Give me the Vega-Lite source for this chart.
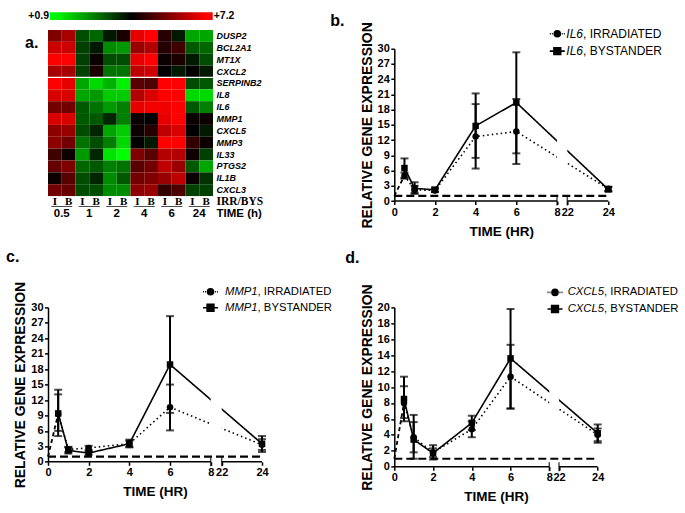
{
  "$schema": "https://vega.github.io/schema/vega-lite/v6.json",
  "padding": {"left": 6, "top": 10.9, "right": 5, "bottom": 5},
  "columns": 2,
  "bounds": "flush",
  "align": "each",
  "center": {"row": true, "column": false},
  "spacing": {"row": 87.5, "column": 132.3},
  "config": {
    "font": "Liberation Sans",
    "view": {"stroke": null},
    "title": {"color": "black"},
    "axis": {"labelOverlap": false}
  },
  "datasets": {
    "hm": [
      {"g":"DUSP2","t":"0.5","I":5.63,"B":6.10},{"g":"DUSP2","t":"1","I":3.11,"B":2.79},{"g":"DUSP2","t":"2","I":3.74,"B":4.37},{"g":"DUSP2","t":"4","I":6.89,"B":7.2},{"g":"DUSP2","t":"6","I":4.52,"B":3.74},{"g":"DUSP2","t":"24","I":2.0,"B":2.0},
      {"g":"BCL2A1","t":"0.5","I":6.57,"B":6.57},{"g":"BCL2A1","t":"1","I":3.26,"B":3.74},{"g":"BCL2A1","t":"2","I":2.32,"B":2.16},{"g":"BCL2A1","t":"4","I":5.94,"B":6.26},{"g":"BCL2A1","t":"6","I":4.52,"B":4.84},{"g":"BCL2A1","t":"24","I":2.95,"B":2.79},
      {"g":"MT1X","t":"0.5","I":7.2,"B":7.2},{"g":"MT1X","t":"1","I":3.26,"B":4.21},{"g":"MT1X","t":"2","I":3.11,"B":3.11},{"g":"MT1X","t":"4","I":6.89,"B":7.2},{"g":"MT1X","t":"6","I":4.21,"B":4.37},{"g":"MT1X","t":"24","I":3.74,"B":3.11},
      {"g":"CXCL2","t":"0.5","I":6.10,"B":6.10},{"g":"CXCL2","t":"1","I":3.26,"B":4.37},{"g":"CXCL2","t":"2","I":2.63,"B":2.63},{"g":"CXCL2","t":"4","I":6.41,"B":6.57},{"g":"CXCL2","t":"6","I":4.05,"B":3.74},{"g":"CXCL2","t":"24","I":4.05,"B":3.74},
      {"g":"SERPINB2","t":"0.5","I":7.2,"B":6.89},{"g":"SERPINB2","t":"1","I":2.0,"B":1.37},{"g":"SERPINB2","t":"2","I":1.85,"B":1.06},{"g":"SERPINB2","t":"4","I":5.15,"B":4.99},{"g":"SERPINB2","t":"6","I":7.2,"B":7.2},{"g":"SERPINB2","t":"24","I":3.11,"B":2.95},
      {"g":"IL8","t":"0.5","I":6.73,"B":6.73},{"g":"IL8","t":"1","I":2.0,"B":2.16},{"g":"IL8","t":"2","I":1.53,"B":1.53},{"g":"IL8","t":"4","I":6.26,"B":6.73},{"g":"IL8","t":"6","I":7.2,"B":7.2},{"g":"IL8","t":"24","I":1.37,"B":1.37},
      {"g":"IL6","t":"0.5","I":5.47,"B":5.47},{"g":"IL6","t":"1","I":2.95,"B":2.63},{"g":"IL6","t":"2","I":2.16,"B":2.48},{"g":"IL6","t":"4","I":6.89,"B":7.04},{"g":"IL6","t":"6","I":7.04,"B":7.2},{"g":"IL6","t":"24","I":2.95,"B":2.48},
      {"g":"MMP1","t":"0.5","I":6.73,"B":6.73},{"g":"MMP1","t":"1","I":2.95,"B":2.95},{"g":"MMP1","t":"2","I":3.58,"B":2.48},{"g":"MMP1","t":"4","I":4.21,"B":4.05},{"g":"MMP1","t":"6","I":6.89,"B":7.2},{"g":"MMP1","t":"24","I":4.21,"B":4.21},
      {"g":"CXCL5","t":"0.5","I":5.78,"B":5.94},{"g":"CXCL5","t":"1","I":3.11,"B":3.58},{"g":"CXCL5","t":"2","I":2.0,"B":1.53},{"g":"CXCL5","t":"4","I":4.21,"B":4.52},{"g":"CXCL5","t":"6","I":6.41,"B":6.73},{"g":"CXCL5","t":"24","I":4.05,"B":3.74},
      {"g":"MMP3","t":"0.5","I":5.78,"B":5.47},{"g":"MMP3","t":"1","I":2.63,"B":3.11},{"g":"MMP3","t":"2","I":2.48,"B":1.37},{"g":"MMP3","t":"4","I":4.05,"B":3.74},{"g":"MMP3","t":"6","I":7.2,"B":7.2},{"g":"MMP3","t":"24","I":4.68,"B":4.21},
      {"g":"IL33","t":"0.5","I":4.84,"B":4.21},{"g":"IL33","t":"1","I":2.16,"B":3.58},{"g":"IL33","t":"2","I":1.22,"B":0.9},{"g":"IL33","t":"4","I":5.63,"B":5.15},{"g":"IL33","t":"6","I":6.26,"B":6.26},{"g":"IL33","t":"24","I":4.21,"B":3.26},
      {"g":"PTGS2","t":"0.5","I":5.31,"B":5.63},{"g":"PTGS2","t":"1","I":2.79,"B":2.95},{"g":"PTGS2","t":"2","I":2.48,"B":2.63},{"g":"PTGS2","t":"4","I":5.15,"B":5.47},{"g":"PTGS2","t":"6","I":6.41,"B":5.94},{"g":"PTGS2","t":"24","I":2.95,"B":2.0},
      {"g":"IL1B","t":"0.5","I":4.21,"B":5.15},{"g":"IL1B","t":"1","I":3.11,"B":3.58},{"g":"IL1B","t":"2","I":2.32,"B":2.95},{"g":"IL1B","t":"4","I":5.47,"B":5.63},{"g":"IL1B","t":"6","I":5.94,"B":6.41},{"g":"IL1B","t":"24","I":4.21,"B":3.42},
      {"g":"CXCL3","t":"0.5","I":5.47,"B":5.31},{"g":"CXCL3","t":"1","I":3.11,"B":3.11},{"g":"CXCL3","t":"2","I":2.32,"B":2.32},{"g":"CXCL3","t":"4","I":5.78,"B":5.94},{"g":"CXCL3","t":"6","I":4.68,"B":4.99},{"g":"CXCL3","t":"24","I":3.26,"B":3.26}
    ],
    "il6": [
      {"t":0,"c":"IRRADIATED","m":1},
      {"t":0.5,"c":"IRRADIATED","m":5.0,"lo":4.4,"hi":5.6},
      {"t":1,"c":"IRRADIATED","m":2.2,"lo":1.6,"hi":3.0},
      {"t":2,"c":"IRRADIATED","m":2.1,"lo":1.8,"hi":2.4},
      {"t":4,"c":"IRRADIATED","m":12.7,"lo":6.4,"hi":19.1},
      {"t":6,"c":"IRRADIATED","m":13.7,"lo":7.3,"hi":20.1},
      {"t":24,"c":"IRRADIATED","m":2.4,"lo":2.0,"hi":2.8},
      {"t":0.5,"c":"BYSTANDER","m":6.5,"lo":4.6,"hi":8.4},
      {"t":1,"c":"BYSTANDER","m":2.5,"lo":1.4,"hi":3.7},
      {"t":2,"c":"BYSTANDER","m":2.2,"lo":1.8,"hi":2.7},
      {"t":4,"c":"BYSTANDER","m":14.8,"lo":8.5,"hi":21.2},
      {"t":6,"c":"BYSTANDER","m":19.4,"lo":9.4,"hi":29.3},
      {"t":24,"c":"BYSTANDER","m":2.3,"lo":1.9,"hi":2.8}
    ],
    "mmp1": [
      {"t":0,"c":"IRRADIATED","m":1},
      {"t":0.5,"c":"IRRADIATED","m":9.3,"lo":6.0,"hi":13.1},
      {"t":1,"c":"IRRADIATED","m":2.4,"lo":1.9,"hi":2.9},
      {"t":2,"c":"IRRADIATED","m":2.7,"lo":2.3,"hi":3.1},
      {"t":4,"c":"IRRADIATED","m":3.5,"lo":2.9,"hi":4.1},
      {"t":6,"c":"IRRADIATED","m":10.6,"lo":6.1,"hi":15.0},
      {"t":24,"c":"IRRADIATED","m":3.3,"lo":2.3,"hi":4.4},
      {"t":0.5,"c":"BYSTANDER","m":9.4,"lo":5.0,"hi":14.0},
      {"t":1,"c":"BYSTANDER","m":2.2,"lo":1.6,"hi":2.8},
      {"t":2,"c":"BYSTANDER","m":1.7,"lo":1.4,"hi":2.0},
      {"t":4,"c":"BYSTANDER","m":3.5,"lo":2.8,"hi":4.3},
      {"t":6,"c":"BYSTANDER","m":18.9,"lo":9.5,"hi":28.3},
      {"t":24,"c":"BYSTANDER","m":3.5,"lo":1.9,"hi":5.0}
    ],
    "cxcl5": [
      {"t":0,"c":"IRRADIATED","m":1},
      {"t":0.5,"c":"IRRADIATED","m":8.0,"lo":6.1,"hi":10.1},
      {"t":1,"c":"IRRADIATED","m":3.7,"lo":1.8,"hi":5.6},
      {"t":2,"c":"IRRADIATED","m":1.8,"lo":1.2,"hi":2.3},
      {"t":4,"c":"IRRADIATED","m":4.7,"lo":3.7,"hi":5.7},
      {"t":6,"c":"IRRADIATED","m":11.3,"lo":7.3,"hi":15.3},
      {"t":24,"c":"IRRADIATED","m":4.0,"lo":3.2,"hi":4.8},
      {"t":0.5,"c":"BYSTANDER","m":8.5,"lo":5.7,"hi":11.3},
      {"t":1,"c":"BYSTANDER","m":3.4,"lo":1.0,"hi":6.5},
      {"t":2,"c":"BYSTANDER","m":1.7,"lo":0.9,"hi":2.7},
      {"t":4,"c":"BYSTANDER","m":5.5,"lo":4.6,"hi":6.4},
      {"t":6,"c":"BYSTANDER","m":13.6,"lo":7.3,"hi":19.8},
      {"t":24,"c":"BYSTANDER","m":4.2,"lo":3.0,"hi":5.3}
    ],
    "brk": [{"lo":8,"hi":22}],
    "seg": [{"s":0,"e":8},{"s":22,"e":24}],
    "ref": [{"y":1,"a":0,"b":24}]
  },
  "concat": [
    {
      "width": 165,
      "height": 189.8,
      "title": {"text": "a.", "anchor": "start", "frame": "group", "offset": 0, "dx": -23, "dy": 52.5, "fontSize": 16, "fontWeight": "bold", "baseline": "alphabetic"},
      "layer": [
        {
          "layer": [
            {
              "data": {"name": "hm"},
              "transform": [{"fold": ["I", "B"], "as": ["s", "v"]}],
              "mark": {"type": "rect"},
              "encoding": {
                "x": {"field": "t", "type": "nominal", "scale": {"domain": ["0.5", "1", "2", "4", "6", "24"], "paddingInner": 0, "paddingOuter": 0}, "axis": null},
                "xOffset": {"field": "s", "type": "nominal", "scale": {"domain": ["I", "B"], "paddingInner": 0, "paddingOuter": 0}},
                "y": {"field": "g", "type": "nominal", "scale": {"domain": ["DUSP2", "BCL2A1", "MT1X", "CXCL2", "SERPINB2", "IL8", "IL6", "MMP1", "CXCL5", "MMP3", "IL33", "PTGS2", "IL1B", "CXCL3", "IRR/BYS", "TIME (h)"], "paddingInner": 0, "paddingOuter": 0}, "axis": {"orient": "right", "title": null, "ticks": false, "domain": false, "labelPadding": 3, "labelColor": "black", "labelFontWeight": "bold",
                  "labelFont": {"condition": {"test": "datum.value === 'IRR/BYS'", "value": "Liberation Serif"}, "value": "Liberation Sans"},
                  "labelFontStyle": {"condition": {"test": "datum.value === 'IRR/BYS' || datum.value === 'TIME (h)'", "value": "normal"}, "value": "italic"},
                  "labelFontSize": {"condition": {"test": "datum.value === 'IRR/BYS' || datum.value === 'TIME (h)'", "value": 11.5}, "value": 9}}},
                "color": {"field": "v", "type": "quantitative", "scale": {"domain": [0.9, 4.05, 7.2], "range": ["#00ff00", "#000000", "#ff0000"], "interpolate": "rgb"}, "legend": null}
              }
            },
            {
              "data": {"values": [{"sep": "SERPINB2"}]},
              "mark": {"type": "rule", "color": "white", "strokeWidth": 1.2},
              "encoding": {"y": {"field": "sep", "type": "nominal", "bandPosition": 0}}
            },
            {
              "data": {"name": "hm"},
              "transform": [{"filter": "datum.g === 'DUSP2'"}, {"fold": ["I", "B"], "as": ["s", "v"]}],
              "mark": {"type": "text", "font": "Liberation Serif", "fontSize": 11, "fontWeight": "bold", "color": "black"},
              "encoding": {
                "x": {"field": "t", "type": "nominal"},
                "xOffset": {"field": "s", "type": "nominal"},
                "y": {"datum": "IRR/BYS", "type": "nominal"},
                "text": {"field": "s"}
              }
            },
            {
              "data": {"name": "hm"},
              "transform": [{"filter": "datum.g === 'DUSP2'"}],
              "mark": {"type": "tick", "orient": "horizontal", "size": 21, "thickness": 1, "yOffset": 4.5, "color": "black"},
              "encoding": {"x": {"field": "t", "type": "nominal"}, "y": {"datum": "IRR/BYS", "type": "nominal"}}
            },
            {
              "data": {"name": "hm"},
              "transform": [{"filter": "datum.g === 'DUSP2'"}],
              "mark": {"type": "text", "fontSize": 11.5, "fontWeight": "bold", "color": "black"},
              "encoding": {"x": {"field": "t", "type": "nominal"}, "y": {"datum": "TIME (h)", "type": "nominal"}, "text": {"field": "t"}}
            }
          ]
        },
        {
          "data": {"values": [{"lo": 0.9, "hi": 7.2, "r": "bar"}]},
          "encoding": {
            "x": {"field": "lo", "type": "quantitative", "scale": {"domain": [0.9, 7.2], "range": [2, 164.7], "nice": false, "zero": false}, "axis": null},
            "y": {"field": "r", "type": "nominal", "scale": {"range": [-17.7, -10], "paddingInner": 0, "paddingOuter": 0}, "axis": null}
          },
          "layer": [
            {"mark": {"type": "rect", "color": {"gradient": "linear", "x1": 0, "x2": 1, "y1": 0, "y2": 0, "stops": [{"offset": 0, "color": "#00ff00"}, {"offset": 0.06, "color": "#00f000"}, {"offset": 0.5, "color": "#000000"}, {"offset": 0.96, "color": "#ff0000"}, {"offset": 1, "color": "#ff0000"}]}}, "encoding": {"x2": {"field": "hi"}}},
            {"mark": {"type": "text", "align": "right", "dx": -1, "fontSize": 10.5, "fontWeight": "bold", "color": "black"}, "encoding": {"text": {"field": "lo", "format": "+.1f"}}},
            {"mark": {"type": "text", "align": "left", "dx": 1, "fontSize": 10.5, "fontWeight": "bold", "color": "black"}, "encoding": {"x": {"field": "hi", "type": "quantitative"}, "text": {"field": "hi", "format": "+.1f"}}}
          ]
        }
      ],
      "resolve": {"scale": {"x": "independent", "y": "independent"}}
    },
    {
      "width": 214,
      "height": 152.3,
      "title": {"text": "b.", "anchor": "start", "frame": "group", "offset": 0, "dx": -64, "dy": 20.2, "fontSize": 16, "fontWeight": "bold", "baseline": "alphabetic"},
      "layer": [
        {
          "data": {"name": "il6"},
          "layer": [
            {
              "transform": [{"filter": "datum.c === 'IRRADIATED' && datum.t <= 0.5"}],
              "mark": {"type": "line", "strokeDash": [4, 3], "strokeWidth": 1.8, "color": "black"},
              "encoding": {
                "x": {"field": "t", "type": "quantitative", "scale": {"domain": [0, 8, 22, 24], "range": [0, 162.7, 173, 214]}, "axis": {"values": [0, 2, 4, 6, 8, 22, 24], "tickCount": 50, "format": "d", "title": "TIME (HR)", "domain": false, "grid": false, "tickSize": 3.5, "tickWidth": 1.5, "tickColor": "black", "labelFontSize": 11, "labelFontWeight": "bold", "labelColor": "black", "labelPadding": 1.5, "labelOverlap": false, "labelFlush": false, "titleFontSize": 13.5, "titleFontWeight": "bold", "titleColor": "black", "titlePadding": 7}},
                "y": {"field": "m", "type": "quantitative", "scale": {"domain": [0, 30]}, "axis": {"values": [0, 3, 6, 9, 12, 15, 18, 21, 24, 27, 30], "tickCount": 50, "format": "d", "title": "RELATIVE GENE EXPRESSION", "grid": false, "domainColor": "black", "domainWidth": 1.5, "tickSize": 3.5, "tickWidth": 1.5, "tickColor": "black", "labelFontSize": 11, "labelFontWeight": "bold", "labelColor": "black", "labelPadding": 1.5, "labelOverlap": false, "titleFontSize": 14, "titleFontWeight": "bold", "titleColor": "black", "titlePadding": 3}}
              }
            },
            {
              "transform": [{"filter": "datum.t >= 0.5"}],
              "mark": {"type": "line", "strokeWidth": 1.6, "color": "black"},
              "encoding": {"x": {"field": "t", "type": "quantitative"}, "y": {"field": "m", "type": "quantitative"}, "detail": {"field": "c"}, "strokeDash": {"field": "c", "type": "nominal", "scale": {"domain": ["IRRADIATED", "BYSTANDER"], "range": [[1.5, 3], [1, 0]]}, "legend": null}}
            },
            {"data": {"name": "brk"}, "mark": {"type": "rect", "color": "white"}, "encoding": {"x": {"field": "lo", "type": "quantitative"}, "x2": {"field": "hi"}}},
            {"data": {"name": "ref"}, "mark": {"type": "rule", "strokeDash": [8, 4], "strokeWidth": 2.2, "color": "black"}, "encoding": {"x": {"field": "a", "type": "quantitative"}, "x2": {"field": "b"}, "y": {"field": "y", "type": "quantitative"}}},
            {"transform": [{"filter": "isValid(datum.lo)"}], "mark": {"type": "rule", "strokeWidth": 2, "color": "black"}, "encoding": {"x": {"field": "t", "type": "quantitative"}, "y": {"field": "lo", "type": "quantitative"}, "y2": {"field": "hi"}}},
            {"transform": [{"filter": "isValid(datum.lo)"}], "mark": {"type": "tick", "orient": "horizontal", "size": 8, "thickness": 2, "color": "black"}, "encoding": {"x": {"field": "t", "type": "quantitative"}, "y": {"field": "lo", "type": "quantitative"}}},
            {"transform": [{"filter": "isValid(datum.hi)"}], "mark": {"type": "tick", "orient": "horizontal", "size": 8, "thickness": 2, "color": "black"}, "encoding": {"x": {"field": "t", "type": "quantitative"}, "y": {"field": "hi", "type": "quantitative"}}},
            {"transform": [{"filter": "datum.t > 0"}], "mark": {"type": "point", "filled": true, "opacity": 1, "color": "black", "size": 42}, "encoding": {"x": {"field": "t", "type": "quantitative"}, "y": {"field": "m", "type": "quantitative"}, "shape": {"field": "c", "type": "nominal", "scale": {"domain": ["IRRADIATED", "BYSTANDER"], "range": ["circle", "square"]}, "legend": null}}},
            {"data": {"name": "seg"}, "mark": {"type": "rule", "strokeWidth": 1.5, "color": "black"}, "encoding": {"x": {"field": "s", "type": "quantitative"}, "x2": {"field": "e"}, "y": {"datum": 0}}},
            {"data": {"name": "brk"}, "mark": {"type": "tick", "orient": "vertical", "size": 9, "thickness": 1.5, "color": "black"}, "encoding": {"x": {"field": "lo", "type": "quantitative"}, "y": {"datum": 0}}},
            {"data": {"name": "brk"}, "mark": {"type": "tick", "orient": "vertical", "size": 9, "thickness": 1.5, "color": "black"}, "encoding": {"x": {"field": "hi", "type": "quantitative"}, "y": {"datum": 0}}}
          ]
        },
        {
          "data": {"values": [{"c": "IRRADIATED", "g": "IL6", "r": ", IRRADIATED"}, {"c": "BYSTANDER", "g": "IL6", "r": ", BYSTANDER"}]},
          "encoding": {"y": {"field": "c", "type": "nominal", "scale": {"type": "point", "domain": ["IRRADIATED", "BYSTANDER"], "range": [-15, 2.4], "padding": 0}, "axis": null}},
          "layer": [
            {"mark": {"type": "point", "filled": true, "opacity": 1, "color": "black", "stroke": "black", "strokeWidth": 1.6, "size": 225, "xOffset": 56}, "encoding": {"shape": {"field": "c", "type": "nominal", "scale": {"domain": ["IRRADIATED", "BYSTANDER"], "range": ["M-1,0H-0.87M-0.72,0H-0.59M0.59,0H0.72M0.87,0H1M-0.4,0A0.4,0.4,0,1,0,0.4,0A0.4,0.4,0,1,0,-0.4,0Z", "M-1,0H1M-0.45,-0.45H0.45V0.45H-0.45Z"]}, "legend": null}}},
            {"mark": {"type": "text", "align": "left", "dx": 65, "fontSize": 12, "fontStyle": "italic", "color": "black"}, "encoding": {"text": {"field": "g"}}},
            {"mark": {"type": "text", "align": "left", "dx": 81.7, "fontSize": 12, "color": "black"}, "encoding": {"text": {"field": "r"}}}
          ]
        }
      ],
      "resolve": {"scale": {"y": "independent", "shape": "independent"}}
    },
    {
      "width": 214,
      "height": 154.4,
      "title": {"text": "c.", "anchor": "start", "frame": "group", "offset": 0, "dx": -42, "dy": -3.2, "fontSize": 16, "fontWeight": "bold", "baseline": "alphabetic"},
      "layer": [
        {
          "data": {"name": "mmp1"},
          "layer": [
            {
              "transform": [{"filter": "datum.c === 'IRRADIATED' && datum.t <= 0.5"}],
              "mark": {"type": "line", "strokeDash": [4, 3], "strokeWidth": 1.8, "color": "black"},
              "encoding": {
                "x": {"field": "t", "type": "quantitative", "scale": {"domain": [0, 8, 22, 24], "range": [0, 162.7, 173.7, 214]}, "axis": {"values": [0, 2, 4, 6, 8, 22, 24], "tickCount": 50, "format": "d", "title": "TIME (HR)", "domain": false, "grid": false, "tickSize": 3.5, "tickWidth": 1.5, "tickColor": "black", "labelFontSize": 11, "labelFontWeight": "bold", "labelColor": "black", "labelPadding": 1.5, "labelOverlap": false, "labelFlush": false, "titleFontSize": 13.5, "titleFontWeight": "bold", "titleColor": "black", "titlePadding": 7}},
                "y": {"field": "m", "type": "quantitative", "scale": {"domain": [0, 30]}, "axis": {"values": [0, 3, 6, 9, 12, 15, 18, 21, 24, 27, 30], "tickCount": 50, "format": "d", "title": "RELATIVE GENE EXPRESSION", "grid": false, "domainColor": "black", "domainWidth": 1.5, "tickSize": 3.5, "tickWidth": 1.5, "tickColor": "black", "labelFontSize": 11, "labelFontWeight": "bold", "labelColor": "black", "labelPadding": 1.5, "labelOverlap": false, "titleFontSize": 14, "titleFontWeight": "bold", "titleColor": "black", "titlePadding": 3}}
              }
            },
            {
              "transform": [{"filter": "datum.t >= 0.5"}],
              "mark": {"type": "line", "strokeWidth": 1.6, "color": "black"},
              "encoding": {"x": {"field": "t", "type": "quantitative"}, "y": {"field": "m", "type": "quantitative"}, "detail": {"field": "c"}, "strokeDash": {"field": "c", "type": "nominal", "scale": {"domain": ["IRRADIATED", "BYSTANDER"], "range": [[1.5, 3], [1, 0]]}, "legend": null}}
            },
            {"data": {"name": "brk"}, "mark": {"type": "rect", "color": "white"}, "encoding": {"x": {"field": "lo", "type": "quantitative"}, "x2": {"field": "hi"}}},
            {"data": {"name": "ref"}, "mark": {"type": "rule", "strokeDash": [8, 4], "strokeWidth": 2.2, "color": "black"}, "encoding": {"x": {"field": "a", "type": "quantitative"}, "x2": {"field": "b"}, "y": {"field": "y", "type": "quantitative"}}},
            {"transform": [{"filter": "isValid(datum.lo)"}], "mark": {"type": "rule", "strokeWidth": 2, "color": "black"}, "encoding": {"x": {"field": "t", "type": "quantitative"}, "y": {"field": "lo", "type": "quantitative"}, "y2": {"field": "hi"}}},
            {"transform": [{"filter": "isValid(datum.lo)"}], "mark": {"type": "tick", "orient": "horizontal", "size": 8, "thickness": 2, "color": "black"}, "encoding": {"x": {"field": "t", "type": "quantitative"}, "y": {"field": "lo", "type": "quantitative"}}},
            {"transform": [{"filter": "isValid(datum.hi)"}], "mark": {"type": "tick", "orient": "horizontal", "size": 8, "thickness": 2, "color": "black"}, "encoding": {"x": {"field": "t", "type": "quantitative"}, "y": {"field": "hi", "type": "quantitative"}}},
            {"transform": [{"filter": "datum.t > 0"}], "mark": {"type": "point", "filled": true, "opacity": 1, "color": "black", "size": 42}, "encoding": {"x": {"field": "t", "type": "quantitative"}, "y": {"field": "m", "type": "quantitative"}, "shape": {"field": "c", "type": "nominal", "scale": {"domain": ["IRRADIATED", "BYSTANDER"], "range": ["circle", "square"]}, "legend": null}}},
            {"data": {"name": "seg"}, "mark": {"type": "rule", "strokeWidth": 1.5, "color": "black"}, "encoding": {"x": {"field": "s", "type": "quantitative"}, "x2": {"field": "e"}, "y": {"datum": 0}}},
            {"data": {"name": "brk"}, "mark": {"type": "tick", "orient": "vertical", "size": 9, "thickness": 1.5, "color": "black"}, "encoding": {"x": {"field": "lo", "type": "quantitative"}, "y": {"datum": 0}}},
            {"data": {"name": "brk"}, "mark": {"type": "tick", "orient": "vertical", "size": 9, "thickness": 1.5, "color": "black"}, "encoding": {"x": {"field": "hi", "type": "quantitative"}, "y": {"datum": 0}}}
          ]
        },
        {
          "data": {"values": [{"c": "IRRADIATED", "g": "MMP1", "r": ", IRRADIATED"}, {"c": "BYSTANDER", "g": "MMP1", "r": ", BYSTANDER"}]},
          "encoding": {"y": {"field": "c", "type": "nominal", "scale": {"type": "point", "domain": ["IRRADIATED", "BYSTANDER"], "range": [-15.6, 0.4], "padding": 0}, "axis": null}},
          "layer": [
            {"mark": {"type": "point", "filled": true, "opacity": 1, "color": "black", "stroke": "black", "strokeWidth": 1.6, "size": 225, "xOffset": 55.5}, "encoding": {"shape": {"field": "c", "type": "nominal", "scale": {"domain": ["IRRADIATED", "BYSTANDER"], "range": ["M-1,0H-0.87M-0.72,0H-0.59M0.59,0H0.72M0.87,0H1M-0.4,0A0.4,0.4,0,1,0,0.4,0A0.4,0.4,0,1,0,-0.4,0Z", "M-1,0H1M-0.45,-0.45H0.45V0.45H-0.45Z"]}, "legend": null}}},
            {"mark": {"type": "text", "align": "left", "dx": 70, "fontSize": 11.3, "fontStyle": "italic", "color": "black"}, "encoding": {"text": {"field": "g"}}},
            {"mark": {"type": "text", "align": "left", "dx": 102.6, "fontSize": 11.3, "color": "black"}, "encoding": {"text": {"field": "r"}}}
          ]
        }
      ],
      "resolve": {"scale": {"y": "independent", "shape": "independent"}}
    },
    {
      "width": 203.4,
      "height": 159.3,
      "title": {"text": "d.", "anchor": "start", "frame": "group", "offset": 0, "dx": -49, "dy": -4.8, "fontSize": 16, "fontWeight": "bold", "baseline": "alphabetic"},
      "layer": [
        {
          "data": {"name": "cxcl5"},
          "layer": [
            {
              "transform": [{"filter": "datum.c === 'IRRADIATED' && datum.t <= 0.5"}],
              "mark": {"type": "line", "strokeDash": [4, 3], "strokeWidth": 1.8, "color": "black"},
              "encoding": {
                "x": {"field": "t", "type": "quantitative", "scale": {"domain": [0, 8, 22, 24], "range": [0, 155, 164.7, 203.4]}, "axis": {"values": [0, 2, 4, 6, 8, 22, 24], "tickCount": 50, "format": "d", "title": "TIME (HR)", "domain": false, "grid": false, "tickSize": 3.5, "tickWidth": 1.5, "tickColor": "black", "labelFontSize": 11, "labelFontWeight": "bold", "labelColor": "black", "labelPadding": 1.5, "labelOverlap": false, "labelFlush": false, "titleFontSize": 13.5, "titleFontWeight": "bold", "titleColor": "black", "titlePadding": 7}},
                "y": {"field": "m", "type": "quantitative", "scale": {"domain": [0, 20]}, "axis": {"values": [0, 2, 4, 6, 8, 10, 12, 14, 16, 18, 20], "tickCount": 50, "format": "d", "title": "RELATIVE GENE EXPRESSION", "grid": false, "domainColor": "black", "domainWidth": 1.5, "tickSize": 3.5, "tickWidth": 1.5, "tickColor": "black", "labelFontSize": 11, "labelFontWeight": "bold", "labelColor": "black", "labelPadding": 1.5, "labelOverlap": false, "titleFontSize": 14, "titleFontWeight": "bold", "titleColor": "black", "titlePadding": 3}}
              }
            },
            {
              "transform": [{"filter": "datum.t >= 0.5"}],
              "mark": {"type": "line", "strokeWidth": 1.6, "color": "black"},
              "encoding": {"x": {"field": "t", "type": "quantitative"}, "y": {"field": "m", "type": "quantitative"}, "detail": {"field": "c"}, "strokeDash": {"field": "c", "type": "nominal", "scale": {"domain": ["IRRADIATED", "BYSTANDER"], "range": [[1.5, 3], [1, 0]]}, "legend": null}}
            },
            {"data": {"name": "brk"}, "mark": {"type": "rect", "color": "white"}, "encoding": {"x": {"field": "lo", "type": "quantitative"}, "x2": {"field": "hi"}}},
            {"data": {"name": "ref"}, "mark": {"type": "rule", "strokeDash": [8, 4], "strokeWidth": 2.2, "color": "black"}, "encoding": {"x": {"field": "a", "type": "quantitative"}, "x2": {"field": "b"}, "y": {"field": "y", "type": "quantitative"}}},
            {"transform": [{"filter": "isValid(datum.lo)"}], "mark": {"type": "rule", "strokeWidth": 2, "color": "black"}, "encoding": {"x": {"field": "t", "type": "quantitative"}, "y": {"field": "lo", "type": "quantitative"}, "y2": {"field": "hi"}}},
            {"transform": [{"filter": "isValid(datum.lo)"}], "mark": {"type": "tick", "orient": "horizontal", "size": 8, "thickness": 2, "color": "black"}, "encoding": {"x": {"field": "t", "type": "quantitative"}, "y": {"field": "lo", "type": "quantitative"}}},
            {"transform": [{"filter": "isValid(datum.hi)"}], "mark": {"type": "tick", "orient": "horizontal", "size": 8, "thickness": 2, "color": "black"}, "encoding": {"x": {"field": "t", "type": "quantitative"}, "y": {"field": "hi", "type": "quantitative"}}},
            {"transform": [{"filter": "datum.t > 0"}], "mark": {"type": "point", "filled": true, "opacity": 1, "color": "black", "size": 42}, "encoding": {"x": {"field": "t", "type": "quantitative"}, "y": {"field": "m", "type": "quantitative"}, "shape": {"field": "c", "type": "nominal", "scale": {"domain": ["IRRADIATED", "BYSTANDER"], "range": ["circle", "square"]}, "legend": null}}},
            {"data": {"name": "seg"}, "mark": {"type": "rule", "strokeWidth": 1.5, "color": "black"}, "encoding": {"x": {"field": "s", "type": "quantitative"}, "x2": {"field": "e"}, "y": {"datum": 0}}},
            {"data": {"name": "brk"}, "mark": {"type": "tick", "orient": "vertical", "size": 9, "thickness": 1.5, "color": "black"}, "encoding": {"x": {"field": "lo", "type": "quantitative"}, "y": {"datum": 0}}},
            {"data": {"name": "brk"}, "mark": {"type": "tick", "orient": "vertical", "size": 9, "thickness": 1.5, "color": "black"}, "encoding": {"x": {"field": "hi", "type": "quantitative"}, "y": {"datum": 0}}}
          ]
        },
        {
          "data": {"values": [{"c": "IRRADIATED", "g": "CXCL5", "r": ", IRRADIATED"}, {"c": "BYSTANDER", "g": "CXCL5", "r": ", BYSTANDER"}]},
          "encoding": {"y": {"field": "c", "type": "nominal", "scale": {"type": "point", "domain": ["IRRADIATED", "BYSTANDER"], "range": [-15, 1.6], "padding": 0}, "axis": null}},
          "layer": [
            {"mark": {"type": "point", "filled": true, "opacity": 1, "color": "black", "stroke": "black", "strokeWidth": 1.6, "size": 225, "xOffset": 59}, "encoding": {"shape": {"field": "c", "type": "nominal", "scale": {"domain": ["IRRADIATED", "BYSTANDER"], "range": ["M-1,0H-0.87M-0.72,0H-0.59M0.59,0H0.72M0.87,0H1M-0.4,0A0.4,0.4,0,1,0,0.4,0A0.4,0.4,0,1,0,-0.4,0Z", "M-1,0H1M-0.45,-0.45H0.45V0.45H-0.45Z"]}, "legend": null}}},
            {"mark": {"type": "text", "align": "left", "dx": 71.7, "fontSize": 11.3, "fontStyle": "italic", "color": "black"}, "encoding": {"text": {"field": "g"}}},
            {"mark": {"type": "text", "align": "left", "dx": 108.1, "fontSize": 11.3, "color": "black"}, "encoding": {"text": {"field": "r"}}}
          ]
        }
      ],
      "resolve": {"scale": {"y": "independent", "shape": "independent"}}
    }
  ]
}
